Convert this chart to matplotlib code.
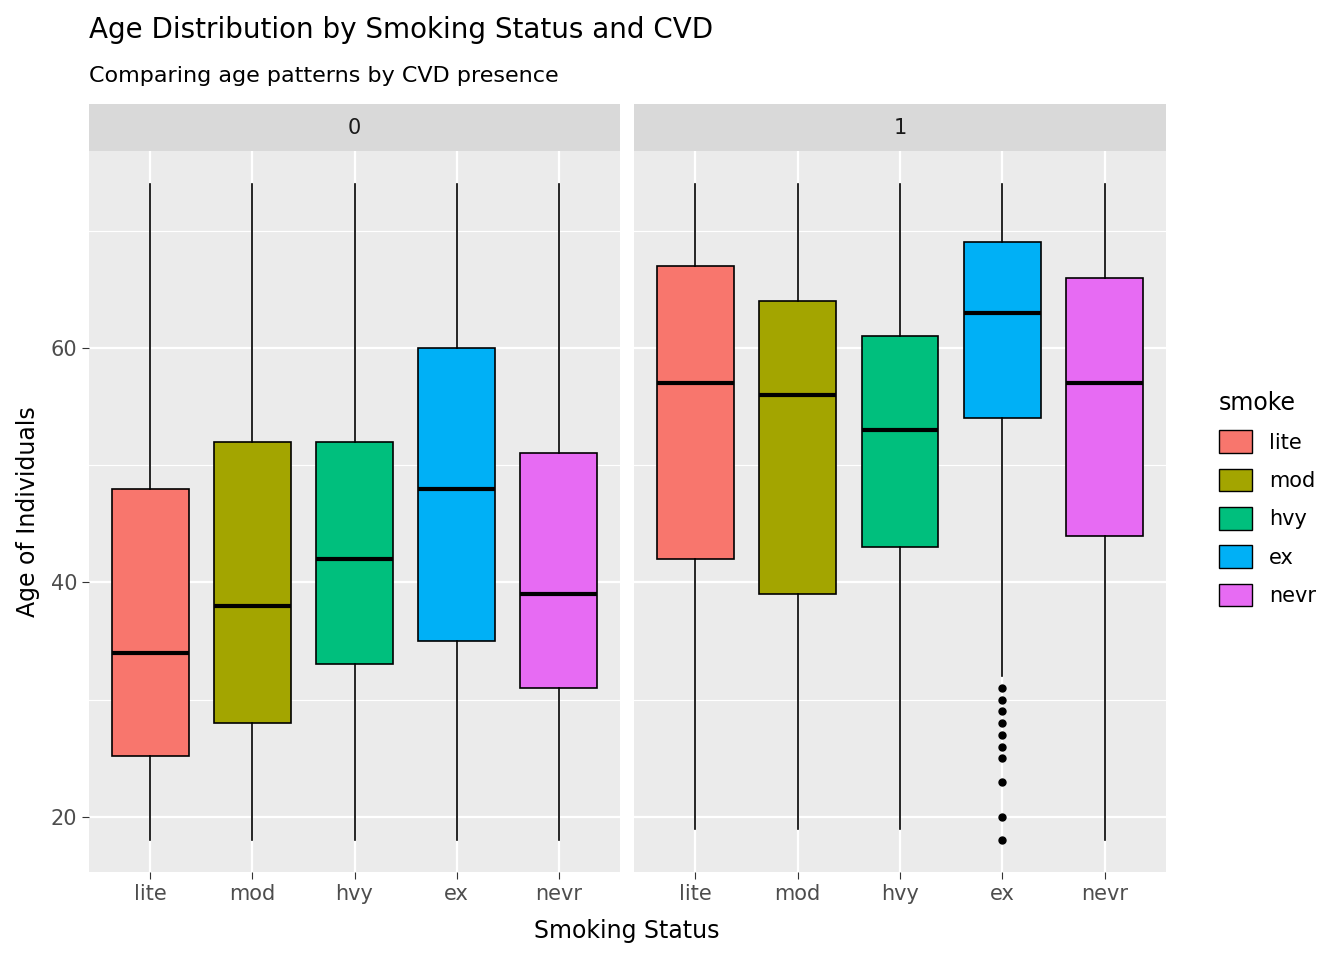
import matplotlib
matplotlib.use("Agg")
import matplotlib.pyplot as plt
from matplotlib.patches import Patch

cats = ["lite", "mod", "hvy", "ex", "nevr"]
colors = ["#F8766D", "#A3A500", "#00BF7D", "#00B0F6", "#E76BF3"]
panels = ["0", "1"]
# [whislo, q1, med, q3, whishi]
stats0 = [[18, 25.2, 34, 48, 74], [18, 28, 38, 52, 74], [18, 33, 42, 52, 74],
          [18, 35, 48, 60, 74], [18, 31, 39, 51, 74]]
stats1 = [[19, 42, 57, 67, 74], [19, 39, 56, 64, 74], [19, 43, 53, 61, 74],
          [32, 54, 63, 69, 74], [18, 44, 57, 66, 74]]
fliers1 = [[], [], [], [31, 30, 29, 28, 27, 26, 25, 23, 20, 18], []]
fliers0 = [[], [], [], [], []]

fig = plt.figure(figsize=(13.44, 9.6), dpi=100)
W, H = 1344, 960
axes = []
for i, (x0, x1) in enumerate([(89, 620), (634, 1166)]):
    ax = fig.add_axes([x0 / W, 1 - 872 / H, (x1 - x0) / W, (872 - 151) / H])
    axes.append(ax)
    st = [stats0, stats1][i]
    fl = [fliers0, fliers1][i]
    bxs = [dict(whislo=s[0], q1=s[1], med=s[2], q3=s[3], whishi=s[4], fliers=f)
           for s, f in zip(st, fl)]
    ax.set_facecolor("#EBEBEB")
    ax.set_xlim(0.4, 5.6)
    ax.set_ylim(15.3, 76.8)
    for y in [30, 50, 70]:
        ax.axhline(y, color="white", lw=0.8, zorder=0)
    for y in [20, 40, 60]:
        ax.axhline(y, color="white", lw=1.6, zorder=0)
    for x in range(1, 6):
        ax.axvline(x, color="white", lw=1.6, zorder=0)
    b = ax.bxp(bxs, positions=range(1, 6), widths=0.75, patch_artist=True,
               showcaps=False,
               boxprops=dict(edgecolor="black", lw=1.2),
               medianprops=dict(color="black", lw=3),
               whiskerprops=dict(color="black", lw=1.2),
               flierprops=dict(marker="o", markerfacecolor="black",
                               markeredgecolor="black", markersize=5))
    for p, c in zip(b["boxes"], colors):
        p.set_facecolor(c)
    for s in ax.spines.values():
        s.set_visible(False)
    ax.set_xticks(range(1, 6))
    ax.set_xticklabels(cats, fontsize=15, color="#4D4D4D")
    ax.tick_params(axis="both", color="#333333", length=5)
    ax.set_yticks([20, 40, 60])
    if i == 0:
        ax.set_yticklabels(["20", "40", "60"], fontsize=15, color="#4D4D4D")
    else:
        ax.tick_params(axis="y", left=False, labelleft=False)
    sax = fig.add_axes([x0 / W, 1 - 151 / H, (x1 - x0) / W, 47 / H])
    sax.set_facecolor("#D9D9D9")
    sax.set_xticks([]); sax.set_yticks([])
    for s in sax.spines.values():
        s.set_visible(False)
    sax.text(0.5, 0.5, panels[i], ha="center", va="center", fontsize=15, color="#1A1A1A")

fig.text(89 / W, 1 - 30 / H, "Age Distribution by Smoking Status and CVD", fontsize=20, va="center")
fig.text(89 / W, 1 - 76 / H, "Comparing age patterns by CVD presence", fontsize=16, va="center")
fig.text(627 / W, 1 - 931 / H, "Smoking Status", fontsize=17, ha="center", va="center")
fig.text(28 / W, 1 - 512 / H, "Age of Individuals", fontsize=17, rotation=90, ha="center", va="center")

handles = [Patch(facecolor=c, edgecolor="black", label=l) for c, l in zip(colors, cats)]
leg = fig.legend(handles=handles, title="smoke", loc="upper left",
                 bbox_to_anchor=(1200 / W, 1 - 372 / H), frameon=False,
                 fontsize=15, title_fontsize=17, handlelength=1.6, handleheight=1.3,
                 labelspacing=0.75)
leg._legend_box.align = "left"
fig.savefig("out.png", dpi=100)
